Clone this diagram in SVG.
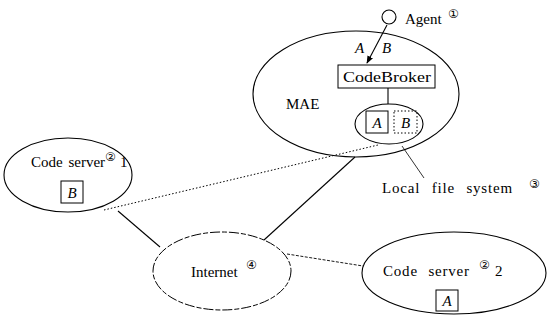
<svg xmlns="http://www.w3.org/2000/svg" width="549" height="327" viewBox="0 0 549 327">
<defs>
<marker id="arr" viewBox="0 0 10 10" refX="9" refY="5" markerWidth="7" markerHeight="7" orient="auto-start-reverse">
<path d="M0,1 L10,5 L0,9 z" fill="#000"/>
</marker>
<style>
.t{font-family:"Liberation Serif","Times New Roman","DejaVu Serif",serif;font-size:15px;fill:#000}
.i{font-style:italic}
.c{font-family:"DejaVu Sans",sans-serif;font-size:12px;fill:#000}
.n{fill:none;stroke:#000;stroke-width:1.1}
.box{fill:#fff;stroke:#000;stroke-width:1}
.dot{fill:none;stroke:#000;stroke-width:1;stroke-dasharray:1.5 2}
</style>
</defs>
<rect width="549" height="327" fill="#fff"/>
<g id="connectors">
<line x1="387" y1="25" x2="367" y2="63" class="n" marker-end="url(#arr)"/>
<line x1="388" y1="88" x2="388" y2="104" class="n"/>
<line x1="402" y1="146" x2="424" y2="178" stroke="#000" stroke-width="0.8"/>
<line x1="104" y1="210" x2="378" y2="145" class="dot"/>
<line x1="355" y1="157" x2="264" y2="240" class="n" stroke-width="0.9"/>
<line x1="118" y1="211" x2="160" y2="247" class="n" stroke-width="0.9"/>
<line x1="287" y1="254" x2="363" y2="266" stroke="#000" stroke-width="0.9" stroke-dasharray="3 1.5"/>
</g>
<g id="agent">
<circle cx="389" cy="17" r="7" class="n"/>
<text x="405" y="24" class="t">Agent</text>
<text x="448" y="18" class="c">①</text>
<text x="355" y="53" class="t i">A</text>
<text x="382" y="53" class="t i">B</text>
</g>
<g id="mae">
<ellipse cx="356" cy="94" rx="103" ry="63" class="n"/>
<text x="286" y="109" class="t">MAE</text>
</g>
<g id="codebroker">
<rect x="338" y="65" width="97" height="23" class="box"/>
<text x="343" y="82" class="t" textLength="88" lengthAdjust="spacingAndGlyphs" font-size="16">CodeBroker</text>
</g>
<g id="localfs">
<ellipse cx="389" cy="124" rx="34" ry="20" class="n"/>
<rect x="366" y="111" width="22" height="22" class="box"/>
<text x="377" y="128" class="t i" text-anchor="middle" font-size="16">A</text>
<rect x="394" y="111" width="23" height="22" class="dot"/>
<text x="405.5" y="128" class="t i" text-anchor="middle" font-size="16">B</text>
<text x="382" y="193" class="t" font-size="16" word-spacing="7" letter-spacing="0.8">Local file system</text>
<text x="529" y="188" class="c">③</text>
</g>
<g id="codeserver1">
<ellipse cx="68" cy="175" rx="64" ry="37" class="n"/>
<text x="31" y="167" class="t" word-spacing="2">Code server</text>
<text x="105" y="161" class="c">②</text>
<text x="120" y="167" class="t">1</text>
<rect x="61" y="181" width="22" height="22" class="box"/>
<text x="72" y="198" class="t i" text-anchor="middle" font-size="16">B</text>
</g>
<g id="internet">
<ellipse cx="222" cy="271" rx="69" ry="39" fill="none" stroke="#000" stroke-width="1" stroke-dasharray="10 2 5 2"/>
<text x="191" y="277" class="t">Internet</text>
<text x="246" y="269" class="c">④</text>
</g>
<g id="codeserver2">
<ellipse cx="454" cy="273" rx="92" ry="41" class="n"/>
<text x="383" y="276" class="t" font-size="16" word-spacing="6" letter-spacing="0.8">Code server</text>
<text x="479" y="269" class="c">②</text>
<text x="495" y="276" class="t" font-size="16">2</text>
<rect x="436" y="290" width="22" height="21" class="box"/>
<text x="447" y="306" class="t i" text-anchor="middle" font-size="16">A</text>
</g>
</svg>
